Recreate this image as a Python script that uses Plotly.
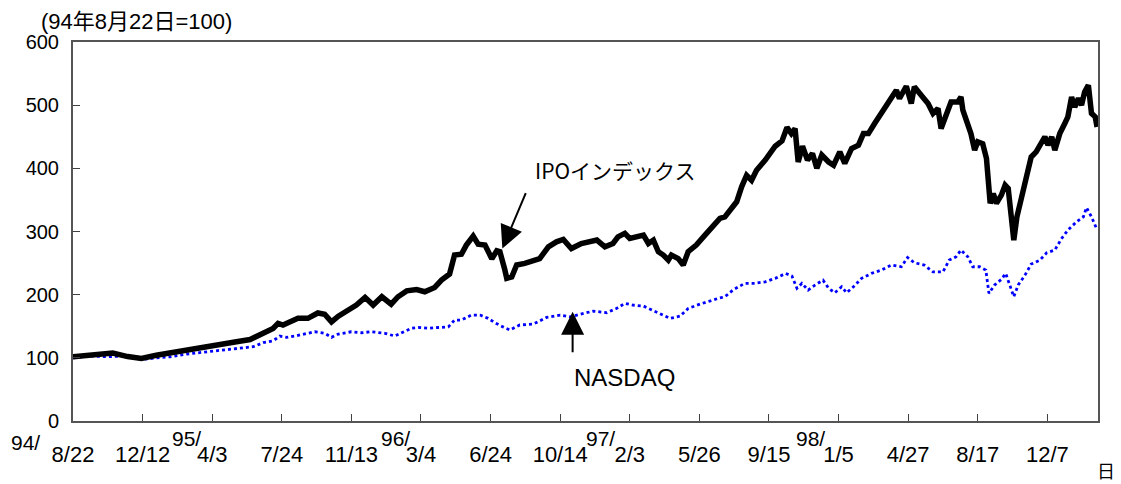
import plotly.graph_objects as go

# ---- data ----
ipo_dates = [
    "1994-08-22", "1994-09-18", "1994-10-25", "1994-11-18", "1994-12-10",
    "1995-01-03", "1995-01-25", "1995-02-21", "1995-03-19", "1995-04-15",
    "1995-05-12", "1995-06-03", "1995-06-24", "1995-07-10", "1995-07-18",
    "1995-07-26", "1995-08-03", "1995-08-19", "1995-09-04", "1995-09-20",
    "1995-10-01", "1995-10-12", "1995-10-23", "1995-11-08", "1995-11-21",
    "1995-12-05", "1995-12-18", "1996-01-01", "1996-01-16", "1996-01-27",
    "1996-02-10", "1996-02-26", "1996-03-10", "1996-03-26", "1996-04-06",
    "1996-04-19", "1996-04-27", "1996-05-08", "1996-05-16", "1996-05-27",
    "1996-06-04", "1996-06-15", "1996-06-26", "1996-07-04", "1996-07-09",
    "1996-07-17", "1996-07-20", "1996-07-28", "1996-08-05", "1996-08-18",
    "1996-09-01", "1996-09-11", "1996-09-25", "1996-10-08", "1996-10-19",
    "1996-11-01", "1996-11-17", "1996-12-01", "1996-12-12", "1996-12-25",
    "1997-01-07", "1997-01-15", "1997-01-26", "1997-02-03", "1997-02-14",
    "1997-02-25", "1997-03-05", "1997-03-13", "1997-03-21", "1997-03-29",
    "1997-04-06", "1997-04-11", "1997-04-22", "1997-04-30", "1997-05-08",
    "1997-05-21", "1997-06-04", "1997-06-17", "1997-06-28", "1997-07-06",
    "1997-07-17", "1997-07-25", "1997-08-02", "1997-08-10", "1997-08-18",
    "1997-08-26", "1997-09-09", "1997-09-25", "1997-10-06", "1997-10-14",
    "1997-10-21", "1997-10-27", "1997-11-01", "1997-11-08", "1997-11-16",
    "1997-11-24", "1997-12-01", "1997-12-09", "1997-12-20", "1997-12-28",
    "1998-01-07", "1998-01-15", "1998-01-26", "1998-02-06", "1998-02-14",
    "1998-02-22", "1998-03-04", "1998-03-15", "1998-03-26", "1998-04-08",
    "1998-04-13", "1998-04-24", "1998-05-02", "1998-05-07", "1998-05-18",
    "1998-05-29", "1998-06-06", "1998-06-14", "1998-06-19", "1998-06-27",
    "1998-07-05", "1998-07-16", "1998-07-21", "1998-07-24", "1998-08-01",
    "1998-08-06", "1998-08-12", "1998-08-17", "1998-08-25", "1998-08-31",
    "1998-09-06", "1998-09-11", "1998-09-16", "1998-09-24", "1998-09-30",
    "1998-10-05", "1998-10-10", "1998-10-14", "1998-10-19", "1998-10-26",
    "1998-11-03", "1998-11-11", "1998-11-19", "1998-11-28", "1998-12-03",
    "1998-12-08", "1998-12-14", "1998-12-19", "1998-12-27", "1999-01-04",
    "1999-01-09", "1999-01-15", "1999-01-20", "1999-01-26", "1999-01-31",
    "1999-02-05", "1999-02-11", "1999-02-16", "1999-02-22", "1999-02-25",
]
ipo_values = [
    101.7, 104, 107.5, 102, 99,
    104, 108, 113, 116.6, 122,
    125.5, 129, 137.7, 146.6, 154.6,
    152, 155.5, 162.5, 162.5, 171,
    169, 157, 166, 175.6, 183.5,
    195.7, 183.5, 196.7, 185, 196.7,
    206, 208, 204.6, 211.5, 223,
    232.6, 262.7, 264, 278.5, 292.7,
    280, 278.5, 257, 269.5, 268,
    239, 225.8, 228, 247, 249.5,
    254.7, 257, 275.8, 283.7, 287.5,
    273, 281, 283.7, 286.4, 275.8,
    281, 291.6, 297, 289, 292.7,
    294.3, 281, 286.4, 268, 262.7,
    254.7, 262.7, 257, 247, 268,
    278.5, 294.3, 310, 320.7, 323,
    336.5, 347, 370.7, 389, 381,
    397, 413, 435, 443.5, 464.7,
    455, 463, 410, 435, 413,
    423.6, 400, 421, 410, 405,
    426, 407.7, 431.5, 436.7, 455,
    455, 471, 487, 502.7, 523.7,
    510.6, 530, 502.7, 529, 515.8,
    502.7, 487, 494.8, 463, 487,
    505, 505, 513, 492, 471,
    455, 428.8, 442, 439, 415.7,
    344.5, 360, 344.5, 357.6, 373.4,
    368, 323, 286.4, 323, 352,
    376, 418, 426, 439, 450,
    436.7, 450, 428.8, 455, 471,
    481.5, 513, 497, 510.6, 500,
    521, 531.6, 487, 481.5, 465.6,
]

nasdaq_dates = [
    "1994-08-22", "1994-09-18", "1994-10-15", "1994-11-11", "1994-12-02",
    "1994-12-13", "1995-01-03", "1995-01-25", "1995-02-21", "1995-03-19",
    "1995-04-15", "1995-05-12", "1995-06-08", "1995-06-24", "1995-07-10",
    "1995-07-21", "1995-08-01", "1995-08-14", "1995-08-30", "1995-09-15",
    "1995-10-01", "1995-10-12", "1995-10-23", "1995-11-13", "1995-11-29",
    "1995-12-15", "1996-01-06", "1996-01-22", "1996-02-02", "1996-02-18",
    "1996-02-29", "1996-03-16", "1996-04-01", "1996-04-17", "1996-04-27",
    "1996-05-08", "1996-05-24", "1996-06-07", "1996-06-20", "1996-07-01",
    "1996-07-14", "1996-07-25", "1996-08-10", "1996-09-01", "1996-09-22",
    "1996-10-14", "1996-10-30", "1996-11-15", "1996-12-06", "1996-12-28",
    "1997-01-13", "1997-01-26", "1997-02-08", "1997-02-25", "1997-03-13",
    "1997-03-29", "1997-04-09", "1997-04-25", "1997-05-08", "1997-05-27",
    "1997-06-12", "1997-06-25", "1997-07-06", "1997-07-20", "1997-08-07",
    "1997-08-23", "1997-09-09", "1997-09-25", "1997-10-12", "1997-10-22",
    "1997-10-30", "1997-11-07", "1997-11-17", "1997-11-28", "1997-12-11",
    "1997-12-20", "1997-12-30", "1998-01-10", "1998-01-18", "1998-01-29",
    "1998-02-11", "1998-02-27", "1998-03-15", "1998-03-31", "1998-04-16",
    "1998-04-26", "1998-05-07", "1998-05-23", "1998-06-06", "1998-06-22",
    "1998-07-02", "1998-07-13", "1998-07-21", "1998-08-01", "1998-08-09",
    "1998-08-20", "1998-08-30", "1998-09-04", "1998-09-13", "1998-09-24",
    "1998-10-01", "1998-10-08", "1998-10-14", "1998-10-21", "1998-11-01",
    "1998-11-11", "1998-11-25", "1998-12-06", "1998-12-19", "1998-12-30",
    "1999-01-09", "1999-01-23", "1999-02-03", "1999-02-08", "1999-02-16",
    "1999-02-24",
]
nasdaq_values = [
    100, 103, 101.7, 102.8, 99,
    97.6, 100, 101.7, 106, 109,
    111, 114.4, 117.6, 124, 127,
    134.5, 132.4, 134.5, 137.7, 141.3,
    138.8, 132.4, 137.7, 141.3, 139.7,
    141.3, 138.8, 134.5, 139.7, 147,
    148, 146.7, 148, 149, 159.8,
    159.8, 167.7, 167.7, 162.5, 155.5,
    149, 144, 152, 153.5, 164,
    167.7, 165, 169.3, 174, 171.4,
    178.3, 186.2, 183.5, 182, 174.5,
    167.7, 162.5, 166, 178.3, 185,
    190.4, 194, 196.7, 208, 217.9,
    217.9, 220.4, 225.8, 233.7, 229.4,
    210, 217.9, 207.3, 215.2, 223,
    210, 203, 212.5, 203, 212.5,
    225.8, 233.7, 239, 246.8, 244.2,
    258.9, 250.5, 246.8, 236, 236,
    254.7, 260, 270.6, 260, 244.2,
    244.2, 239, 202, 215.2, 224.2,
    233.7, 212.5, 196.7, 215.2, 231,
    248.4, 254.7, 266.3, 270.6, 289,
    302.2, 315.4, 323.3, 338, 323.3,
    305,
]

tick_dates = [
    "1994-08-22", "1994-12-12", "1995-04-03", "1995-07-24", "1995-11-13",
    "1996-03-04", "1996-06-24", "1996-10-14", "1997-02-03", "1997-05-26",
    "1997-09-15", "1998-01-05", "1998-04-27", "1998-08-17", "1998-12-07",
]
tick_labels = [
    "8/22", "12/12", "4/3", "7/24", "11/13",
    "3/4", "6/24", "10/14", "2/3", "5/26",
    "9/15", "1/5", "4/27", "8/17", "12/7",
]
year_labels = ["94/", "95/", "96/", "97/", "98/"]

FONT = "Liberation Sans, Arial, Noto Sans CJK JP, sans-serif"
JFONT = "Noto Sans CJK JP, Liberation Sans, sans-serif"

fig = go.Figure()
fig.add_trace(go.Scatter(
    x=nasdaq_dates, y=nasdaq_values, mode="lines", name="NASDAQ",
    line=dict(color="#0000FF", width=2.8, dash="3px,3px"),
))
fig.add_trace(go.Scatter(
    x=ipo_dates, y=ipo_values, mode="lines", name="IPO",
    line=dict(color="#000000", width=5.5),
))

annotations = [
    dict(text="(94年8月22日=100)", xref="paper", yref="paper",
         x=0.0624, y=1.0554, xanchor="center", yanchor="middle",
         showarrow=False, font=dict(family=FONT, size=22, color="#000")),
    dict(text="IPOインデックス", xref="paper", yref="paper",
         x=0.5288, y=0.6623, xanchor="center", yanchor="middle",
         showarrow=False, font=dict(family=JFONT, size=21, color="#000")),
    dict(text="NASDAQ", xref="paper", yref="paper",
         x=0.5385, y=0.1135, xanchor="center", yanchor="middle",
         showarrow=False, font=dict(family=FONT, size=24, color="#000")),
    # arrows
    dict(text="", x="1996-07-13", y=273, xref="x", yref="y",
         ax=24, ay=-57, axref="pixel", ayref="pixel", showarrow=True,
         arrowhead=2, arrowsize=2.3, arrowwidth=2, arrowcolor="#000"),
    dict(text="", x="1996-11-03", y=173, xref="x", yref="y",
         ax=0, ay=42, axref="pixel", ayref="pixel", showarrow=True,
         arrowhead=2, arrowsize=2.3, arrowwidth=2, arrowcolor="#000"),
    dict(text="日", xref="paper", yref="paper", x=1.0078, y=-0.128,
         xanchor="center", yanchor="middle", showarrow=False,
         font=dict(family=JFONT, size=18, color="#000")),
]
year_x = [-0.0468, 0.1112, 0.3151, 0.5151, 0.7195]
year_y = [-0.058, -0.047, -0.047, -0.047, -0.047]
for lab, xx, yy in zip(year_labels, year_x, year_y):
    annotations.append(dict(text=lab, xref="paper", yref="paper", x=xx, y=yy,
                            xanchor="center", yanchor="middle", showarrow=False,
                            font=dict(family=FONT, size=21, color="#000")))

fig.update_layout(
    width=1121, height=484,
    margin=dict(l=73, r=23, t=42, b=63),
    paper_bgcolor="white", plot_bgcolor="white",
    showlegend=False,
    font=dict(family=FONT, size=20, color="#000"),
    annotations=annotations,
    xaxis=dict(
        type="date", range=["1994-08-22", "1999-02-26 12:00"],
        tickmode="array", tickvals=tick_dates, ticktext=tick_labels,
        ticks="inside", ticklen=7, tickwidth=1, tickcolor="#404040",
        showline=True, linecolor="#555555", linewidth=2, mirror=True,
        showgrid=False, zeroline=False,
        tickfont=dict(family=FONT, size=22, color="#000"),
        ticklabelstandoff=13,
    ),
    yaxis=dict(
        range=[0, 600], tickmode="linear", tick0=0, dtick=100,
        ticks="inside", ticklen=7, tickwidth=1, tickcolor="#404040",
        showline=True, linecolor="#555555", linewidth=2, mirror=True,
        showgrid=False, zeroline=False,
        tickfont=dict(family=FONT, size=20, color="#000"),
        ticklabelstandoff=8,
    ),
)

fig.write_html("out.html", config={"displayModeBar": False},
               post_script="document.body.style.margin='0';")
